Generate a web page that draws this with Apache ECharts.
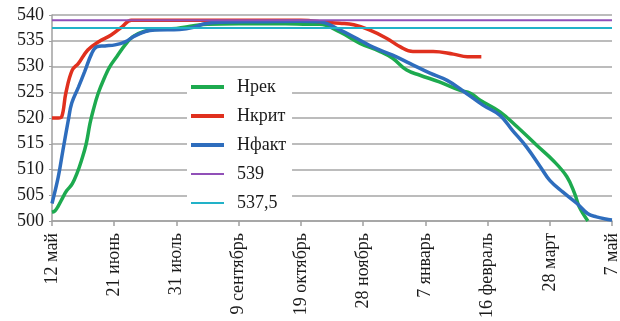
<!DOCTYPE html>
<html>
<head>
<meta charset="utf-8">
<script src="https://cdn.jsdelivr.net/npm/echarts@6/dist/echarts.min.js"></script>
<style>
html,body{margin:0;padding:0;background:#fff;}
#chart{width:620px;height:321px;}
</style>
</head>
<body>
<div id="chart"></div>
<script>
// x tick labels every 40 days (day 0 = 12 May)
var tickLabels = ['12 май','21 июнь','31 июль','9 сентябрь','19 октябрь','28 ноябрь','7 январь','16 февраль','28 март','7 май'];

// Нрек
var recDays = [0,2,4,7,9.5,13,16,19,22,24.4,26.5,29.7,34,37,41.6,47,52,59,66,80,91,100,120,150,165,172,185,198,211,219,228,236.6,249,262,269,275,288,299,311.6,322,331,336,339,344.5];
var recVals = [501.7,502,502.9,504.6,505.9,507.2,509.2,511.8,515,518.9,521.5,524.8,528,529.9,531.9,534.2,535.8,536.8,537.2,537.4,537.9,538.2,538.3,538.3,538.2,538.2,536.7,534.5,532.9,531.6,529.3,528.3,527,525.4,524.8,523.5,521.2,518.3,514.7,511.8,508.6,505.3,502.7,500];

// Нкрит
var critDays = [0,4,6.2,9,13,17,23,30,38,45,51,60,100,160,166,172,185,194,204,215,224,232,245,258,267,276];
var critVals = [520,520,520.2,525,529.3,530.6,533.2,534.8,536.1,537.7,539,539,539,539,538.9,538.7,538.4,538.1,537.1,535.5,533.8,532.9,532.9,532.4,531.9,531.9];

// Нфакт
var factDays = [0,4,7,10.5,12.7,17,21,25.5,28.7,34,40.5,47,53,60,66,82,91,98,108,134,159,172,185,198,206,219,230,243,254,264,277,288,296,305,314,320,328.5,337.5,344.5,350,357.5,360];
var factVals = [503.4,508.5,513.7,519.6,522.9,526,529,532.5,533.8,534,534.2,534.8,535.9,536.8,537.1,537.2,537.6,538.3,538.6,538.7,538.8,538.7,537.1,535.1,533.8,532.2,530.6,528.7,527.3,525.3,522.5,520.5,517.6,514.4,510.5,507.9,505.6,503.4,501.4,500.8,500.3,500.2];

// reference levels
var level539 = 539;
var level5375 = 537.5;
var levelDays = [0,360];

function zip(d, v){ return d.map(function(x,i){ return [x, v[i]]; }); }
function flat(d, y){ return d.map(function(x){ return [x, y]; }); }

var FONT = 'Liberation Serif';
function lineSeries(name, data, color, width){
  return {
    name: name, type: 'line', data: data, symbol: 'none', showSymbol: false,
    smooth: 0.4,
    lineStyle: {color: color, width: width}, itemStyle: {color: color},
    emphasis: {disabled: true}, animation: false
  };
}
var thick = 'path://M0,0 L33,0 L33,4 L0,4 Z';
var thin = 'path://M0,0 L33,0 L33,2.2 L0,2.2 Z';
var option = {
  animation: false,
  grid: {left: 52, right: 8, top: 15, bottom: 100, containLabel: false, outerBoundsMode: 'none'},
  legend: {
    orient: 'vertical', left: 187, top: 74,
    backgroundColor: '#ffffff', padding: [4, 6, 4, 4],
    itemWidth: 33, itemHeight: 4, itemGap: 11,
    textStyle: {fontFamily: FONT, fontSize: 18, color: '#1a1a1a', padding: [0,0,0,8]},
    data: [
      {name: 'Нрек', icon: thick},
      {name: 'Нкрит', icon: thick},
      {name: 'Нфакт', icon: thick},
      {name: '539', icon: thin},
      {name: '537,5', icon: thin}
    ]
  },
  xAxis: {
    type: 'value', min: 0, max: 360, interval: 40,
    axisLine: {show: true, lineStyle: {color: '#a0a0a0', width: 1.5}},
    axisTick: {show: true, length: 5, lineStyle: {color: '#a0a0a0', width: 1.5}},
    splitLine: {show: false},
    axisLabel: {
      rotate: 90, margin: 12, fontFamily: FONT, fontSize: 18, color: '#1a1a1a',
      hideOverlap: false, overflow: 'none',
      formatter: function(v){ return tickLabels[Math.round(v/40)] || ''; }
    }
  },
  yAxis: {
    type: 'value', min: 500, max: 540, interval: 5,
    axisLine: {show: true, lineStyle: {color: '#a0a0a0', width: 1.5}},
    axisTick: {show: true, length: 3, lineStyle: {color: '#a0a0a0'}},
    splitLine: {show: true, lineStyle: {color: '#a6a6a6', width: 1.5}},
    axisLabel: {margin: 8, fontFamily: FONT, fontSize: 18, color: '#1a1a1a'}
  },
  series: [
    lineSeries('Нрек', zip(recDays, recVals), '#1daa4f', 3.5),
    lineSeries('Нкрит', zip(critDays, critVals), '#e0301e', 3.5),
    lineSeries('Нфакт', zip(factDays, factVals), '#2e6dbd', 3.5),
    lineSeries('539', flat(levelDays, level539), '#9150b8', 2),
    lineSeries('537,5', flat(levelDays, level5375), '#22b2c8', 2)
  ]
};
var chart = echarts.init(document.getElementById('chart'), null, {renderer:'canvas'});
chart.setOption(option);
function rerender(){ chart.setOption(option, true); }
if (document.fonts && document.fonts.load) {
  document.fonts.load('18px "Liberation Serif"', 'Нрек 540').then(rerender, rerender);
}
</script>
</body>
</html>
